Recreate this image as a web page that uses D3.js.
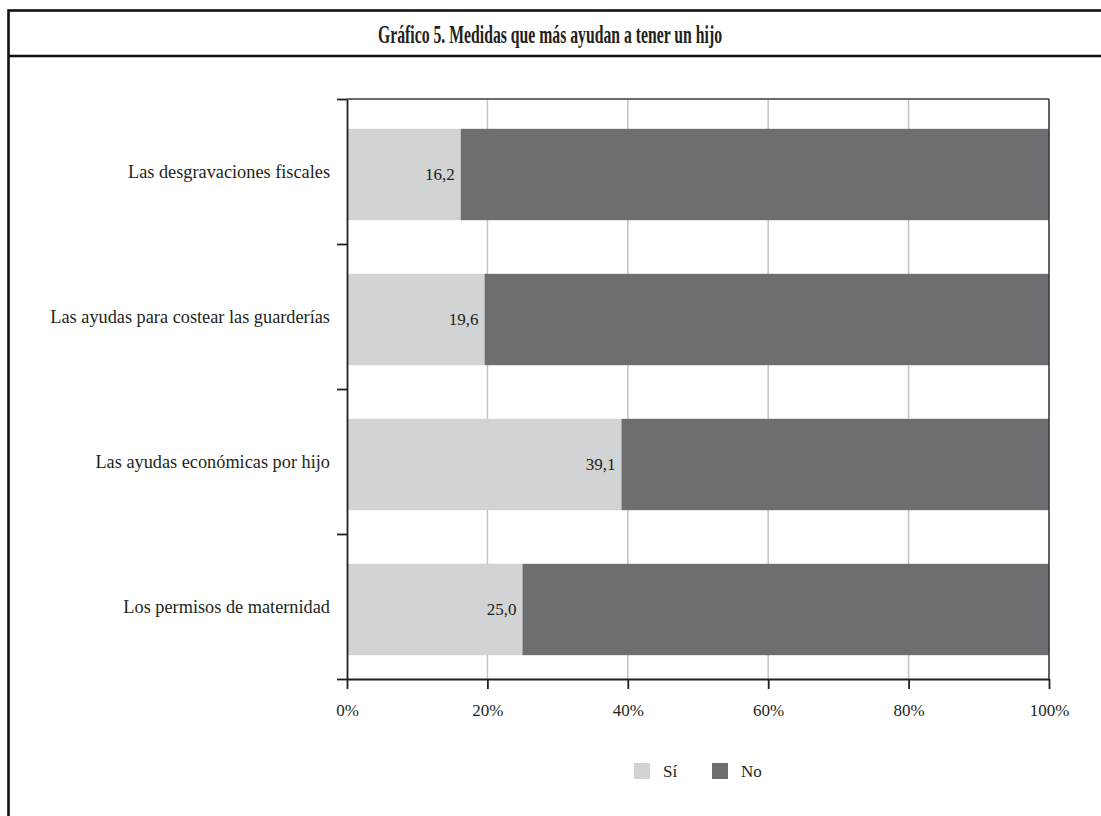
<!DOCTYPE html>
<html>
<head>
<meta charset="utf-8">
<script src="https://cdn.jsdelivr.net/npm/d3@7"></script>
<style>
  html, body { margin: 0; padding: 0; background: #fff; }
  svg { display: block; }
</style>
</head>
<body>
<svg id="chart" width="1101" height="816"></svg>
<script>
// Measures that most help to have a child: share answering "Sí" vs "No"
const categories = [
  "Las desgravaciones fiscales",
  "Las ayudas para costear las guarderías",
  "Las ayudas económicas por hijo",
  "Los permisos de maternidad"
];
const siValues = [16.2, 19.6, 39.1, 25.0];
const noValues = siValues.map(v => 100 - v);
const seriesNames = ["Sí", "No"];
const seriesColors = ["#d1d3d4", "#6d6e71"];
const xTicks = [0, 20, 40, 60, 80, 100];
const title = "Gráfico 5. Medidas que más ayudan a tener un hijo";

const FONT = "'Liberation Serif', 'DejaVu Serif', serif";
const ink = "#231f20";
const svg = d3.select("#chart");

// Outer frame and title band
svg.append("rect")
  .attr("x", 8.5).attr("y", 10.5)
  .attr("width", 1200).attr("height", 900)
  .attr("fill", "none").attr("stroke", "#111").attr("stroke-width", 2.6);
svg.append("line")
  .attr("x1", 8.5).attr("x2", 1101)
  .attr("y1", 56).attr("y2", 56)
  .attr("stroke", "#111").attr("stroke-width", 2.6);
svg.append("text")
  .attr("x", 550).attr("y", 43)
  .attr("text-anchor", "middle")
  .attr("font-family", FONT).attr("fill", ink)
  .attr("font-size", 26).attr("font-weight", "bold")
  .attr("textLength", 344).attr("lengthAdjust", "spacingAndGlyphs")
  .text(title);

// Plot area
const plot = { left: 347, right: 1049, top: 99, bottom: 679 };

const x = d3.scaleLinear().domain([0, 100]).range([plot.left, plot.right]);
const yBand = d3.scaleBand().domain(categories).range([plot.top, plot.bottom]).padding(0);
const yBar = d3.scaleBand().domain(categories)
  .range([plot.top + 3, plot.bottom + 3])
  .paddingInner(0.37).paddingOuter(0.185);

const g = svg.append("g");

// Vertical gridlines
g.append("g").selectAll("line")
  .data(xTicks.filter(t => t > 0 && t < 100))
  .join("line")
  .attr("x1", d => x(d)).attr("x2", d => x(d))
  .attr("y1", plot.top).attr("y2", plot.bottom)
  .attr("stroke", "#c4c4c4").attr("stroke-width", 1.5);

// Stacked bars
const stacked = categories.map((c, i) => ({ cat: c, parts: [
  { key: 0, x0: 0, x1: siValues[i] },
  { key: 1, x0: siValues[i], x1: siValues[i] + noValues[i] }
]}));

const rows = g.append("g").selectAll("g")
  .data(stacked).join("g");
rows.selectAll("rect")
  .data(d => d.parts.map(p => ({ ...p, cat: d.cat })))
  .join("rect")
  .attr("x", d => x(d.x0))
  .attr("width", d => x(d.x1) - x(d.x0))
  .attr("y", d => yBar(d.cat))
  .attr("height", yBar.bandwidth())
  .attr("fill", d => seriesColors[d.key]);

// Value labels for the "Sí" share
g.append("g").selectAll("text")
  .data(categories)
  .join("text")
  .attr("x", (d, i) => x(siValues[i]) - 6)
  .attr("y", d => yBar(d) + yBar.bandwidth() / 2)
  .attr("dy", "0.35em")
  .attr("text-anchor", "end")
  .attr("font-family", FONT).attr("fill", ink)
  .attr("font-size", 17)
  .text((d, i) => d3.format(".1f")(siValues[i]).replace(".", ","));

// Frame: top and right edges of the plot
g.append("line")
  .attr("x1", plot.left).attr("x2", plot.right)
  .attr("y1", plot.top).attr("y2", plot.top)
  .attr("stroke", "#3a3a3a").attr("stroke-width", 1.6);
g.append("line")
  .attr("x1", plot.right).attr("x2", plot.right)
  .attr("y1", plot.top).attr("y2", plot.bottom)
  .attr("stroke", "#3a3a3a").attr("stroke-width", 1.6);

// X axis
const xAxis = g.append("g")
  .attr("transform", `translate(0,${plot.bottom})`)
  .call(d3.axisBottom(x).tickValues(xTicks).tickSize(10).tickSizeOuter(0)
    .tickFormat(d => d + "%"));
xAxis.attr("font-family", FONT);
xAxis.select(".domain").attr("stroke", ink).attr("stroke-width", 1.8);
xAxis.selectAll(".tick line").attr("stroke", ink).attr("stroke-width", 1.8);
xAxis.selectAll(".tick text")
  .attr("font-family", FONT).attr("font-size", 17).attr("fill", ink).attr("y", 25);

// Y axis with ticks at category boundaries
const yBoundary = d3.scaleLinear().domain([0, categories.length]).range([plot.top, plot.bottom]);
const yAxis = g.append("g")
  .attr("transform", `translate(${plot.left},0)`)
  .call(d3.axisLeft(yBoundary).tickValues(d3.range(categories.length + 1))
    .tickSize(10).tickSizeOuter(0).tickFormat(""));
yAxis.select(".domain").attr("stroke", ink).attr("stroke-width", 1.8);
yAxis.selectAll(".tick line").attr("stroke", ink).attr("stroke-width", 1.8);

// Category labels
const yLabels = g.append("g")
  .attr("transform", `translate(${plot.left},0)`)
  .call(d3.axisLeft(yBand).tickSize(0).tickPadding(17));
yLabels.attr("font-family", FONT);
yLabels.select(".domain").remove();
yLabels.selectAll(".tick text")
  .attr("font-family", FONT).attr("font-size", 18.3).attr("fill", ink).attr("dy", "0.35em");

// Legend
const legend = svg.append("g").attr("transform", "translate(634,763)");
const items = legend.selectAll("g").data(seriesNames).join("g")
  .attr("transform", (d, i) => `translate(${i * 78},0)`);
items.append("rect")
  .attr("width", 16).attr("height", 16)
  .attr("fill", (d, i) => seriesColors[i]);
items.append("text")
  .attr("x", 29).attr("y", 8).attr("dy", "0.36em")
  .attr("font-family", FONT).attr("fill", ink)
  .attr("font-size", 17)
  .text(d => d);
</script>
</body>
</html>
